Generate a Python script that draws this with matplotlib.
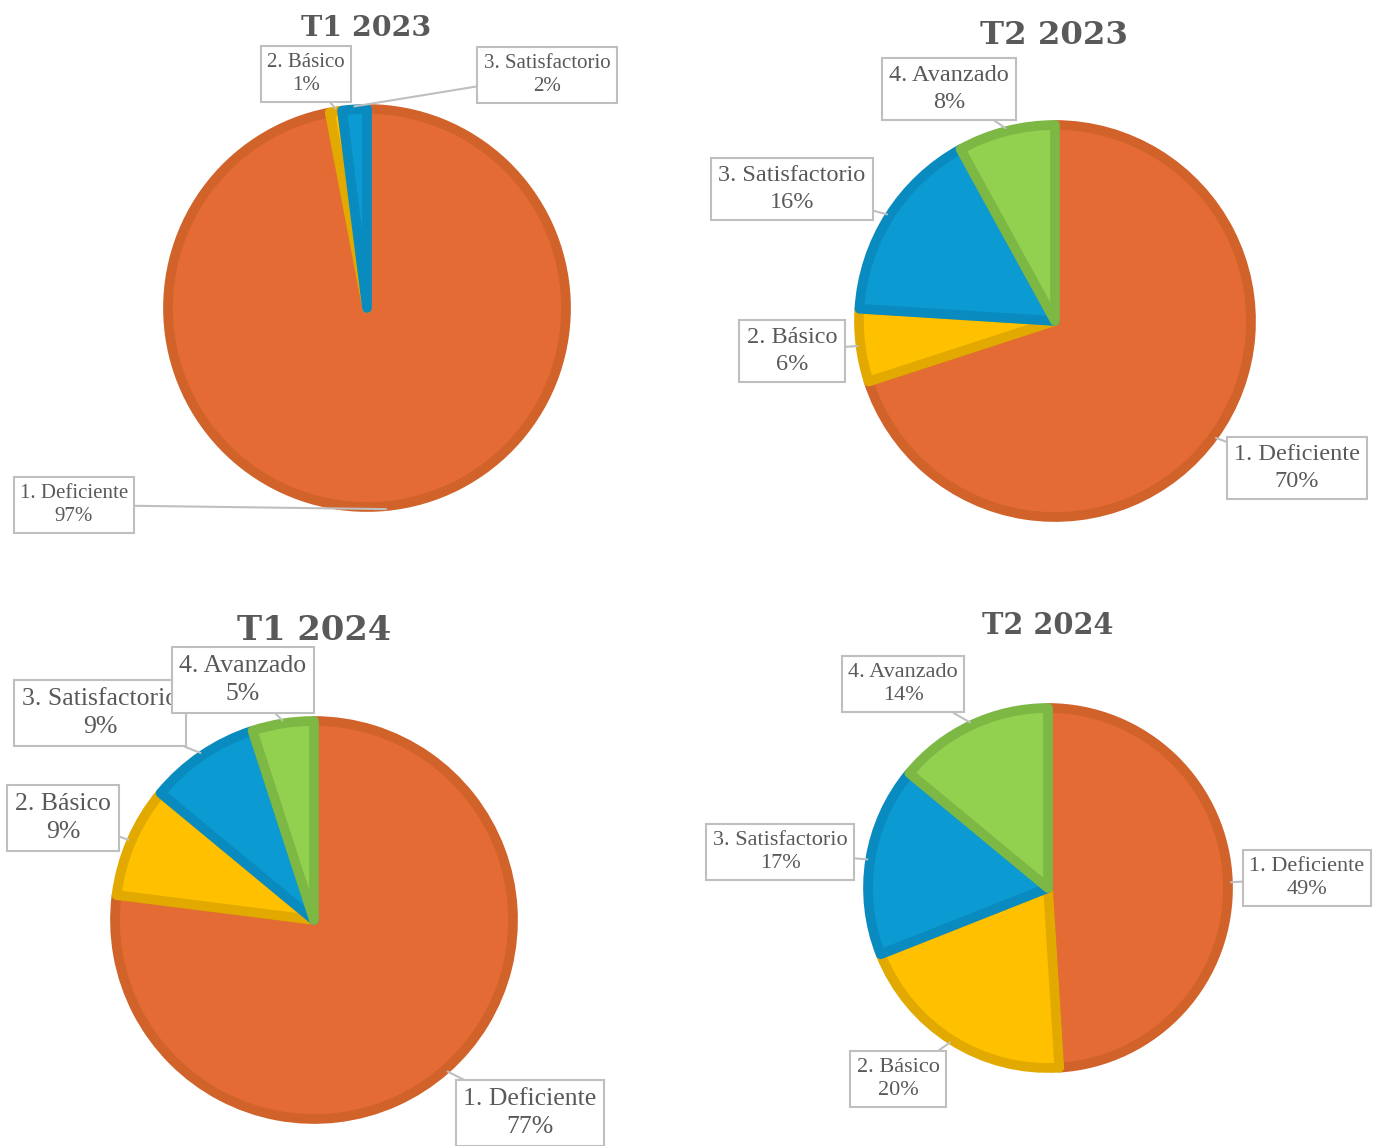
import matplotlib
matplotlib.use("Agg")
import matplotlib.pyplot as plt
import numpy as np

# datos (porcentajes por nivel de desempeño)
niveles = ["1. Deficiente", "2. Básico", "3. Satisfactorio", "4. Avanzado"]
titulos = ["T1 2023", "T2 2023", "T1 2024", "T2 2024"]
t1_2023 = [97, 1, 2]
t2_2023 = [70, 6, 16, 8]
t1_2024 = [77, 9, 9, 5]
t2_2024 = [49, 20, 17, 14]
series = [t1_2023, t2_2023, t1_2024, t2_2024]

relleno = ["#E46C34", "#FFC000", "#0B9AD2", "#92D050"]
borde = ["#D0622A", "#E2AA00", "#0A8BC0", "#7DB845"]

# posiciones en pixeles (imagen): centro, radio, titulo, cajas de etiquetas
centros = [(367, 308), (1055, 321), (314, 920), (1048, 888)]
radios = [199, 196, 199, 180]
pos_titulo = [(366, 28, 20.5), (1054, 36, 23.3), (314, 630, 24.3), (1048, 625, 20.7)]
tam_etq = [15, 17.5, 18.5, 16]
pos_etq = [
    [(74, 505), (306, 74), (547, 75)],
    [(1297, 468), (792, 351), (792, 189), (949, 89)],
    [(530, 1113), (63, 818), (100, 713), (243, 680)],
    [(1307, 878), (898, 1079), (780, 852), (903, 684)],
]

fig = plt.figure(figsize=(13.83, 11.46), dpi=100)
ax = fig.add_axes([0, 0, 1, 1])

for k, vals in enumerate(series):
    n = len(vals)
    cx, cy = centros[k]
    r = radios[k]
    wedges, _ = ax.pie(vals, center=(cx, cy), radius=r, startangle=-90,
                       counterclock=True, colors=relleno[:n],
                       wedgeprops=dict(linewidth=7, joinstyle="round"))
    for i, w in enumerate(wedges):
        w.set_edgecolor(borde[i])
    x, y, fs = pos_titulo[k]
    ax.text(x, y, titulos[k], ha="center", va="center", fontsize=fs,
            fontweight="bold", color="#595959", family="DejaVu Serif")
    for i, w in enumerate(wedges):
        th = np.deg2rad((w.theta1 + w.theta2) / 2)
        px = cx + (r + 3) * np.cos(th)
        py = cy + (r + 3) * np.sin(th)
        tx, ty = pos_etq[k][i]
        z = 5 + i
        ax.annotate(f"{niveles[i]}\n{vals[i]}%", xy=(px, py), xytext=(tx, ty),
                    ha="center", va="center", fontsize=tam_etq[k],
                    color="#595959", family="Liberation Serif", linespacing=1.35,
                    zorder=z,
                    bbox=dict(boxstyle="square,pad=0.3", fc="white",
                              ec="#BFBFBF", lw=1.5),
                    arrowprops=dict(arrowstyle="-", color="#BFBFBF", lw=1.5,
                                    shrinkA=0, shrinkB=0))

ax.set_xlim(0, 1383)
ax.set_ylim(1146, 0)
ax.set_aspect("equal", adjustable="datalim")
ax.axis("off")

fig.savefig("out.png", dpi=100, facecolor="white")
